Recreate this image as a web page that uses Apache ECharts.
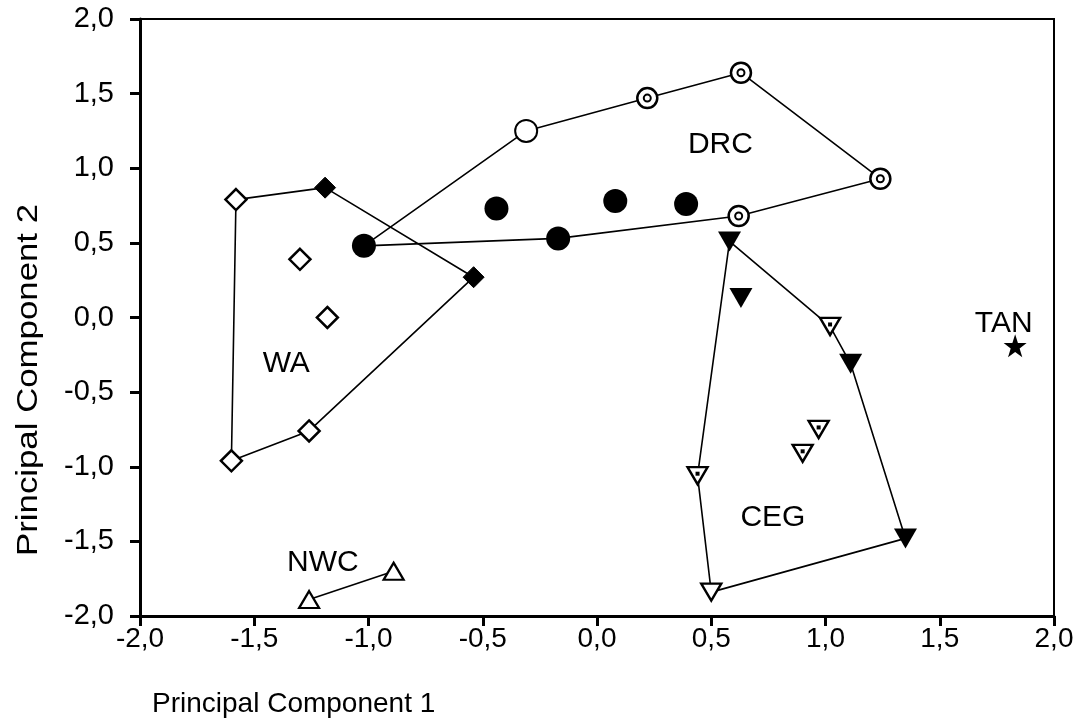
<!DOCTYPE html>
<html>
<head>
<meta charset="utf-8">
<script src="https://cdn.jsdelivr.net/npm/echarts@6/dist/echarts.min.js"></script>
<style>
html,body{margin:0;padding:0;background:#fff;}
#chart{width:1088px;height:725px;}
</style>
</head>
<body>
<div id="chart"></div>
<script>
// ---- data ----
const xTicks = [-2.0, -1.5, -1.0, -0.5, 0.0, 0.5, 1.0, 1.5, 2.0];
const yTicks = [-2.0, -1.5, -1.0, -0.5, 0.0, 0.5, 1.0, 1.5, 2.0];

// WA
const waOpen = [[-1.58, 0.79], [-1.30, 0.39], [-1.18, 0.00], [-1.26, -0.76], [-1.60, -0.96]];
const waFilled = [[-1.19, 0.87], [-0.54, 0.27]];
// DRC
const drcFilled = [[-1.02, 0.48], [-0.44, 0.73], [-0.17, 0.53], [0.08, 0.78], [0.39, 0.76]];
const drcOpen = [[-0.31, 1.25]];
const drcRing = [[0.22, 1.47], [0.63, 1.64], [1.24, 0.93], [0.62, 0.68]];
// CEG
const cegFilled = [[0.58, 0.51], [0.63, 0.13], [1.11, -0.31], [1.35, -1.48]];
const cegDot = [[1.02, -0.06], [0.97, -0.75], [0.90, -0.91], [0.44, -1.06]];
const cegOpen = [[0.50, -1.84]];
// NWC
const nwcOpen = [[-1.26, -1.89], [-0.89, -1.70]];
// TAN
const tan = [[1.83, -0.19]];

// hull outlines (built from the points above)
const waHull = [waOpen[0], waFilled[0], waFilled[1], waOpen[3], waOpen[4], waOpen[0]];
const drcHull = [drcFilled[0], drcOpen[0], drcRing[0], drcRing[1], drcRing[2], drcRing[3], drcFilled[2], drcFilled[0]];
const cegHull = [cegFilled[0], cegDot[0], cegFilled[2], cegFilled[3], cegOpen[0], cegDot[3], cegFilled[0]];
const nwcLine = [nwcOpen[0], nwcOpen[1]];

// group labels (name, x, y in data units)
const groupNames = ['DRC', 'WA', 'NWC', 'CEG', 'TAN'];
const groupLabelPos = [[0.54, 1.16], [-1.36, -0.31], [-1.20, -1.64], [0.77, -1.34], [1.78, -0.04]];

// ---- chart ----
const INK = '#000';
const FONT = '"Liberation Sans", Arial, Helvetica, sans-serif';
const fmt = v => v.toFixed(1).replace('.', ',');
const STAR = 'path://M50,0 L61.8,35.3 L99,35.3 L69,57.3 L80.4,92.7 L50,70.9 L19.6,92.7 L31,57.3 L1,35.3 L38.2,35.3 Z';

function hull(data) {
  return {
    type: 'line', data: data, showSymbol: false, symbol: 'none', z: 1, silent: true,
    lineStyle: { color: INK, width: 1.6 }, animation: false
  };
}
function pts(data, o) {
  const s = Object.assign({ type: 'scatter', data: data, z: 3, silent: true, animation: false }, o);
  s.itemStyle = Object.assign({ opacity: 1 }, s.itemStyle || {});
  return s;
}

const chart = echarts.init(document.getElementById('chart'), null, { renderer: 'canvas' });
chart.setOption({
  backgroundColor: '#fff',
  animation: false,
  grid: { left: 140, right: 34, top: 19, bottom: 109, show: true, borderColor: INK, borderWidth: 2, backgroundColor: 'transparent' },
  xAxis: {
    type: 'value', min: xTicks[0], max: xTicks[xTicks.length - 1], interval: 0.5,
    axisLine: { show: true, onZero: false, lineStyle: { color: INK, width: 3 } },
    axisTick: { show: true, length: 10, lineStyle: { color: INK, width: 3 } },
    axisLabel: { formatter: fmt, color: INK, fontSize: 28, fontFamily: FONT, margin: 9 },
    splitLine: { show: false }
  },
  yAxis: {
    type: 'value', min: yTicks[0], max: yTicks[yTicks.length - 1], interval: 0.5,
    axisLine: { show: true, onZero: false, lineStyle: { color: INK, width: 3 } },
    axisTick: { show: true, length: 10, lineStyle: { color: INK, width: 3 } },
    axisLabel: { formatter: fmt, color: INK, fontSize: 29, fontFamily: FONT, margin: 26 },
    splitLine: { show: false }
  },
  graphic: [
    { type: 'text', left: 152, top: 690, style: { text: 'Principal Component 1', fill: INK, font: '28px ' + FONT } },
    { type: 'text', x: 14, y: 556, rotation: Math.PI / 2, scaleX: 1.2, style: { text: 'Principal Component 2', fill: INK, font: '29px ' + FONT, textVerticalAlign: 'top' } }
  ],
  series: [
    hull(waHull), hull(drcHull), hull(cegHull), hull(nwcLine),
    // WA
    pts(waOpen, { symbol: 'diamond', symbolSize: 21, itemStyle: { color: '#fff', borderColor: INK, borderWidth: 2.5 } }),
    pts(waFilled, { symbol: 'diamond', symbolSize: 21, itemStyle: { color: INK, borderColor: INK, borderWidth: 1 } }),
    // DRC
    pts(drcFilled, { symbol: 'circle', symbolSize: 24, itemStyle: { color: INK } }),
    pts(drcOpen, { symbol: 'circle', symbolSize: 22, itemStyle: { color: '#fff', borderColor: INK, borderWidth: 2 } }),
    pts(drcRing, { symbol: 'circle', symbolSize: 20, itemStyle: { color: '#fff', borderColor: INK, borderWidth: 2.5 } }),
    pts(drcRing, { symbol: 'circle', symbolSize: 7, z: 4, itemStyle: { color: '#fff', borderColor: INK, borderWidth: 2 } }),
    // CEG
    pts(cegFilled, { symbol: 'triangle', symbolRotate: 180, symbolSize: [23, 20], itemStyle: { color: INK } }),
    pts(cegDot, { symbol: 'triangle', symbolRotate: 180, symbolSize: [20, 17], itemStyle: { color: '#fff', borderColor: INK, borderWidth: 2.4 } }),
    pts(cegDot, { symbol: 'rect', symbolSize: 4, symbolOffset: [0, -2], z: 4, itemStyle: { color: INK } }),
    pts(cegOpen, { symbol: 'triangle', symbolRotate: 180, symbolSize: [20, 17], itemStyle: { color: '#fff', borderColor: INK, borderWidth: 2.4 } }),
    // NWC
    pts(nwcOpen, { symbol: 'triangle', symbolSize: [20, 17], itemStyle: { color: '#fff', borderColor: INK, borderWidth: 2.2 } }),
    // TAN
    pts(tan, { symbol: STAR, symbolSize: 23, itemStyle: { color: INK } }),
    // group labels
    {
      type: 'scatter', symbol: 'circle', symbolSize: 1, silent: true, z: 5, animation: false,
      itemStyle: { color: 'rgba(0,0,0,0)', opacity: 1 },
      data: groupLabelPos.map((p, i) => ({ value: p, name: groupNames[i] })),
      label: { show: true, position: 'inside', formatter: p => p.name, color: INK, opacity: 1, fontSize: 30, fontFamily: FONT }
    }
  ]
});
</script>
</body>
</html>
